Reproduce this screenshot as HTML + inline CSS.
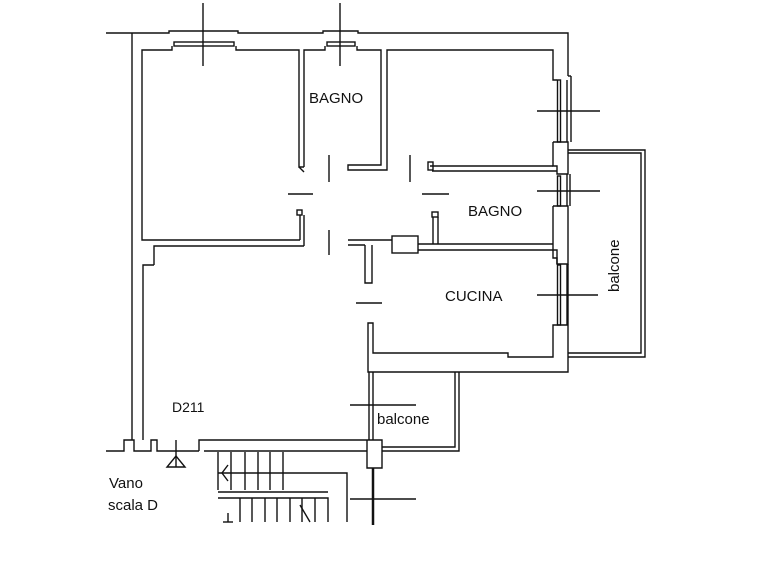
<!DOCTYPE html>
<html><head><meta charset="utf-8"><style>
html,body{margin:0;padding:0;background:#fff;width:759px;height:565px;overflow:hidden}
svg{display:block}
text{font-family:"Liberation Sans",sans-serif;fill:#111}
</style></head><body>
<svg width="759" height="565" viewBox="0 0 759 565" xmlns="http://www.w3.org/2000/svg">
<g stroke="#111" stroke-width="1.4" fill="none">
<polyline points="106,33 169,33 169,31 238,31 238,33 323,33 323,31 358,31 358,33 568,33 568,76"/>
<rect x="174" y="42" width="60" height="4"/>
<rect x="327" y="42" width="28" height="4"/>
<line x1="203" y1="3" x2="203" y2="66"/>
<line x1="340" y1="3" x2="340" y2="66"/>
<line x1="132" y1="33" x2="132" y2="440"/>
<polyline points="172,46 172,50 142,50 142,240 300,240"/>
<polyline points="236,46 236,50 299,50 299,167 304,167"/>
<polyline points="304,167 304,50 325,50 325,46"/>
<polyline points="357,46 357,50 381,50 381,165 348,165 348,170 387,170 387,50 553,50 553,80 557,80"/>
<line x1="568" y1="76" x2="571" y2="76"/>
<line x1="571" y1="76" x2="571" y2="142"/>
<line x1="567" y1="80" x2="567" y2="142"/>
<rect x="557.5" y="80" width="3" height="62"/>
<line x1="537" y1="111" x2="600" y2="111"/>
<polyline points="553,142 568,142 568,174 557,174 557,166 553,166 553,142"/>
<polyline points="430,166 553,166"/>
<polyline points="432,171 557,171"/>
<line x1="567" y1="174" x2="567" y2="206"/>
<line x1="570" y1="174" x2="570" y2="206"/>
<rect x="557.5" y="176" width="3" height="30"/>
<line x1="537" y1="191" x2="600" y2="191"/>
<polyline points="553,206 568,206 568,264 557,264 557,250 553,250 553,206"/>
<polyline points="568,150 645,150 645,357 568,357"/>
<polyline points="568,153 641,153 641,353 568,353"/>
<line x1="299" y1="167" x2="304" y2="172"/>
<rect x="297" y="210" width="5" height="5"/>
<line x1="300" y1="215" x2="300" y2="240"/>
<line x1="304" y1="215" x2="304" y2="246"/>
<rect x="428" y="162" width="5" height="8"/>
<rect x="432" y="212" width="6" height="5"/>
<line x1="433" y1="217" x2="433" y2="244"/>
<line x1="438" y1="217" x2="438" y2="244"/>
<line x1="329" y1="155" x2="329" y2="182"/>
<line x1="410" y1="155" x2="410" y2="182"/>
<line x1="288" y1="194" x2="313" y2="194"/>
<line x1="422" y1="194" x2="449" y2="194"/>
<line x1="329" y1="230" x2="329" y2="255"/>
<line x1="356" y1="303" x2="382" y2="303"/>
<polyline points="154,265 143,265 143,440"/>
<polyline points="154,265 154,246 304,246"/>
<polyline points="348,240 392,240"/>
<polyline points="348,245 365,245"/>
<rect x="392" y="236" width="26" height="17"/>
<polyline points="418,244 553,244"/>
<polyline points="418,250 553,250"/>
<polyline points="365,245 365,283 372,283 372,245"/>
<polyline points="553,250 553,258 557,258 557,264"/>
<rect x="557.5" y="265" width="3" height="60"/>
<line x1="567" y1="264" x2="567" y2="325"/>
<line x1="537" y1="295" x2="598" y2="295"/>
<polyline points="568,325 553,325 553,357 508,357 508,353 373,353 373,323 368,323 368,372 568,372 568,325"/>
<line x1="568" y1="264" x2="568" y2="325"/>
<line x1="369" y1="372" x2="369" y2="440"/>
<line x1="373" y1="372" x2="373" y2="440"/>
<polyline points="455,372 455,447 382,447"/>
<polyline points="459,372 459,451 382,451"/>
<line x1="350" y1="405" x2="416" y2="405"/>
<polyline points="106,451 124,451 124,440 134,440 134,451 151,451 151,440 157,440 157,451 199,451"/>
<polyline points="199,451 199,440 367,440 367,468 382,468 382,440 367,440"/>
<polyline points="204,451 367,451"/>
<line x1="176" y1="440" x2="176" y2="467"/>
<polygon points="167,467 185,467 176,456"/>
<polyline points="218,452 218,490"/>
<line x1="231" y1="452" x2="231" y2="490"/>
<line x1="245" y1="452" x2="245" y2="490"/>
<line x1="258" y1="452" x2="258" y2="490"/>
<line x1="270" y1="452" x2="270" y2="490"/>
<line x1="283" y1="452" x2="283" y2="490"/>
<polyline points="218,473 347,473 347,522"/>
<polyline points="228,465 222,473 228,481"/>
<polyline points="218,498 328,498 328,522"/>
<polyline points="218,492 328,492"/>
<line x1="240" y1="498" x2="240" y2="522"/>
<line x1="252" y1="498" x2="252" y2="522"/>
<line x1="265" y1="498" x2="265" y2="522"/>
<line x1="277" y1="498" x2="277" y2="522"/>
<line x1="290" y1="498" x2="290" y2="522"/>
<line x1="302" y1="498" x2="302" y2="522"/>
<line x1="315" y1="498" x2="315" y2="522"/>
<line x1="300" y1="505" x2="310" y2="522"/>
<line x1="223" y1="522" x2="233" y2="522"/>
<line x1="228" y1="513" x2="228" y2="522"/>
<line x1="350" y1="499" x2="416" y2="499"/>
</g>
<line x1="373" y1="468" x2="373" y2="525" stroke="#111" stroke-width="2.5"/>
<text x="309" y="103" font-size="15">BAGNO</text>
<text x="468" y="216" font-size="15">BAGNO</text>
<text x="445" y="301" font-size="15">CUCINA</text>
<text x="172" y="412" font-size="14">D211</text>
<text x="377" y="424" font-size="15">balcone</text>
<text x="619" y="292" font-size="15" transform="rotate(-90 619 292)">balcone</text>
<text x="109" y="488" font-size="15">Vano</text>
<text x="108" y="510" font-size="15">scala D</text>
</svg>
</body></html>
